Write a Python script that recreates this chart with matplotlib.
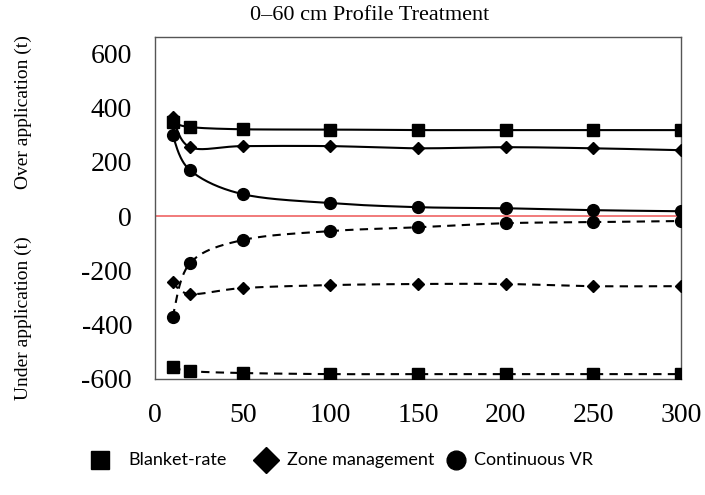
import numpy as np
import matplotlib
matplotlib.use("Agg")
import matplotlib.pyplot as plt
from matplotlib.lines import Line2D

x = [10, 20, 50, 100, 150, 200, 250, 300]
blanket_over = [346, 328, 320, 319, 317, 317, 317, 317]
zone_over = [365, 254, 258, 258, 250, 254, 250, 243]
cvr_over = [298, 169, 81, 48, 33, 29, 22, 18]
blanket_under = [-556, -571, -578, -582, -582, -582, -582, -582]
zone_under = [-243, -287, -265, -254, -250, -250, -258, -258]
cvr_under = [-372, -173, -88, -55, -41, -26, -22, -18]

xticks = [0, 50, 100, 150, 200, 250, 300]
yticks = [-600, -400, -200, 0, 200, 400, 600]
legend_labels = ["Blanket-rate", "Zone management", "Continuous VR"]


def smooth(xs, ys, n=30):
    # Catmull-Rom rendering of a smoothed line (like spreadsheet smoothing)
    P = np.column_stack([xs, ys]).astype(float)
    P = np.vstack([P[0], P, P[-1]])
    out = []
    t = np.linspace(0, 1, n)[:, None]
    for i in range(1, len(P) - 2):
        p0, p1, p2, p3 = P[i - 1], P[i], P[i + 1], P[i + 2]
        seg = 0.5 * ((2 * p1) + (-p0 + p2) * t + (2 * p0 - 5 * p1 + 4 * p2 - p3) * t ** 2
                     + (-p0 + 3 * p1 - 3 * p2 + p3) * t ** 3)
        out.append(seg if i == 1 else seg[1:])
    out = np.vstack(out)
    return out[:, 0], out[:, 1]


W, H = 705, 495
fig = plt.figure(figsize=(W / 100, H / 100), dpi=100)
ax = fig.add_axes([155 / W, 1 - 379 / H, 526 / W, 342 / H])

ax.axhline(0, color="#f07070", lw=1.3, zorder=1)

series = [
    (blanket_over, "s", 8, "-"),
    (zone_over, "D", 6.5, "-"),
    (cvr_over, "o", 8.5, "-"),
    (blanket_under, "s", 8, "--"),
    (zone_under, "D", 6.5, "--"),
    (cvr_under, "o", 8.5, "--"),
]
for ys, m, ms, ls in series:
    sx, sy = smooth(x, ys)
    if ls == "--":
        ax.plot(sx, sy, color="black", lw=1.5, ls=(0, (4, 3)), zorder=2)
    else:
        ax.plot(sx, sy, color="black", lw=1.5, ls="-", zorder=2)
    ax.plot(x, ys, ls="none", marker=m, ms=ms, color="black", zorder=3)

ax.set_xlim(0, 300)
ax.set_ylim(-600, 660)
ax.set_xticks(xticks)
ax.set_yticks(yticks)
ax.set_xticklabels([str(v) for v in xticks], family="Liberation Serif", fontsize=20)
ax.set_yticklabels([str(v) for v in yticks], family="Liberation Serif", fontsize=20)
ax.tick_params(axis="y", length=0, pad=16.5)
ax.tick_params(axis="x", length=0, pad=17)
for s in ax.spines.values():
    s.set_color("#555555")
    s.set_linewidth(1.0)

fig.text(370 / W, 1 - 16 / H, "0–60 cm Profile Treatment", family="Liberation Serif",
         fontsize=16, ha="center", va="center")
fig.text(23 / W, 1 - 112 / H, "Over application (t)", family="Liberation Serif",
         fontsize=14, rotation=90, ha="center", va="center")
fig.text(23 / W, 1 - 318 / H, "Under application (t)", family="Liberation Serif",
         fontsize=14, rotation=90, ha="center", va="center")

# legend placed below the axes
ly = 1 - 460 / H
legend_items = [("s", 12.5, 100, 128), ("D", 13, 266, 287), ("o", 13.5, 456, 474)]
for (m, ms, mx, tx), lab in zip(legend_items, legend_labels):
    fig.add_artist(Line2D([mx / W], [ly], ls="none", marker=m, ms=ms, color="black",
                          transform=fig.transFigure))
    fig.text(tx / W, ly, lab, family="Lato", fontsize=13, ha="left", va="center")

fig.savefig("out.png", dpi=100)
